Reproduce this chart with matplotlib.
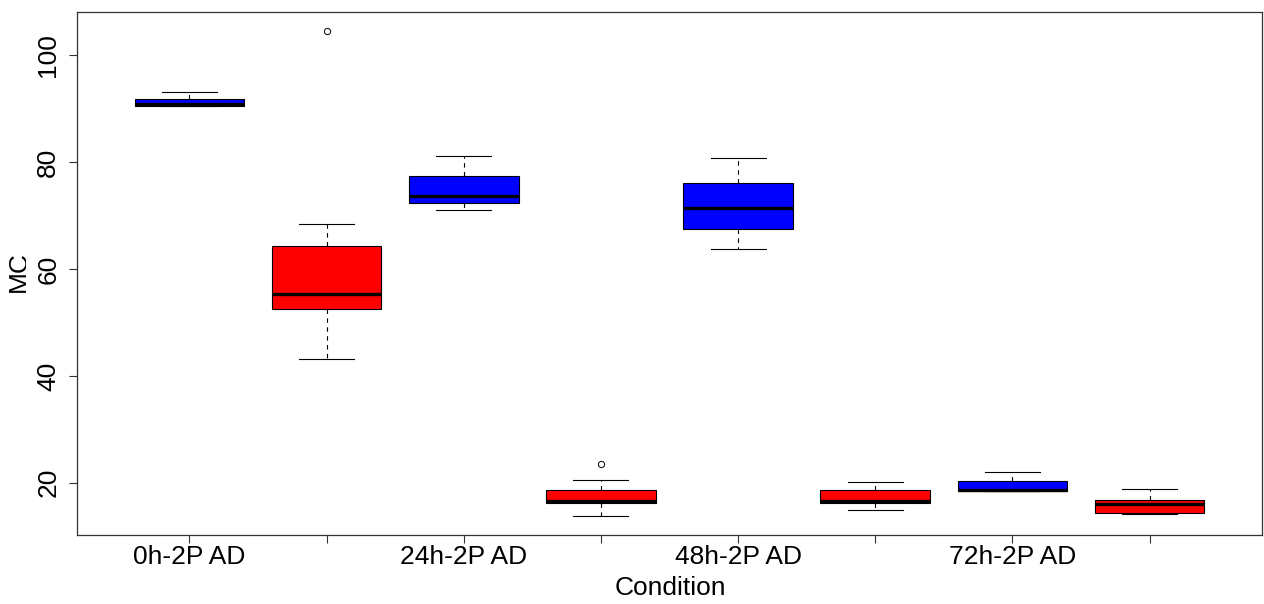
import matplotlib
matplotlib.use("Agg")
import matplotlib.pyplot as plt
from matplotlib.transforms import Bbox

# ---- data ----
tick_labels = ["0h-2P AD", "", "24h-2P AD", "", "48h-2P AD", "", "72h-2P AD", ""]
box_colors = ["#0000FF", "#FF0000", "#0000FF", "#FF0000", "#0000FF", "#FF0000", "#0000FF", "#FF0000"]
whislo = [90.5, 43.1, 71.1, 13.85, 63.8, 14.95, 18.45, 14.2]
q1 = [90.6, 52.5, 72.4, 16.2, 67.5, 16.2, 18.45, 14.3]
med = [90.85, 55.4, 73.6, 16.5, 71.4, 16.5, 18.6, 15.95]
q3 = [91.85, 64.4, 77.4, 18.7, 76.2, 18.6, 20.37, 16.76]
whishi = [93.1, 68.5, 81.2, 20.56, 80.8, 20.13, 22.06, 18.88]
fliers = [[], [104.5], [], [23.45], [], [], [], []]
y_ticks = [20, 40, 60, 80, 100]
x_label = "Condition"
y_label = "MC"

plt.rcParams['font.family'] = ['Liberation Sans', 'DejaVu Sans']

fig = plt.figure(figsize=(12.64, 6.04), dpi=100)
ax = fig.add_axes([77 / 1264, 69 / 604, 1185 / 1264, 523 / 604])

stats = []
for i in range(len(med)):
    stats.append(dict(whislo=whislo[i], q1=q1[i], med=med[i], q3=q3[i],
                      whishi=whishi[i], fliers=fliers[i], label=tick_labels[i]))

positions = list(range(1, len(med) + 1))
bp = ax.bxp(stats, positions=positions, widths=0.8, capwidths=0.4,
            patch_artist=True, showfliers=True,
            boxprops=dict(edgecolor="black", linewidth=0.8),
            medianprops=dict(color="black", linewidth=2.4, solid_capstyle="butt"),
            whiskerprops=dict(color="black", linewidth=0.8, linestyle=(0, (4, 4))),
            capprops=dict(color="black", linewidth=0.8),
            flierprops=dict(marker="o", markersize=4.5, markerfacecolor="none",
                            markeredgecolor="black", markeredgewidth=0.7))
for patch, c in zip(bp["boxes"], box_colors):
    patch.set_facecolor(c)

allv = whislo + whishi + [v for f in fliers for v in f]
lo, hi = min(allv), max(allv)
r = hi - lo
ax.set_ylim(lo - 0.04 * r, hi + 0.04 * r)
n = len(med)
ax.set_xlim(0.5 - 0.04 * n, n + 0.5 + 0.04 * n)

ax.set_xticks(positions)
ax.set_xticklabels(tick_labels, fontsize=19)
ax.set_yticks(y_ticks)
ax.set_yticklabels([str(t) for t in y_ticks], fontsize=19, rotation=90, va="center")
ax.tick_params(axis="both", direction="out", length=6, width=0.8, color="#333333")
ax.tick_params(axis="x", pad=1.5)
ax.tick_params(axis="y", pad=6)

for s in ax.spines.values():
    s.set_linewidth(0.9)
    s.set_color("#333333")

fig.text(670 / 1264, 1 - 588 / 604, x_label, fontsize=19, ha="center", va="center")
t = fig.text(19 / 1264, 1 - 272 / 604, y_label, fontsize=19, rotation=90,
             ha="center", va="center")
t.set_clip_on(True)
t.set_clip_box(Bbox([[0, 0], [26, 604]]))

fig.savefig("out.png", dpi=100)
